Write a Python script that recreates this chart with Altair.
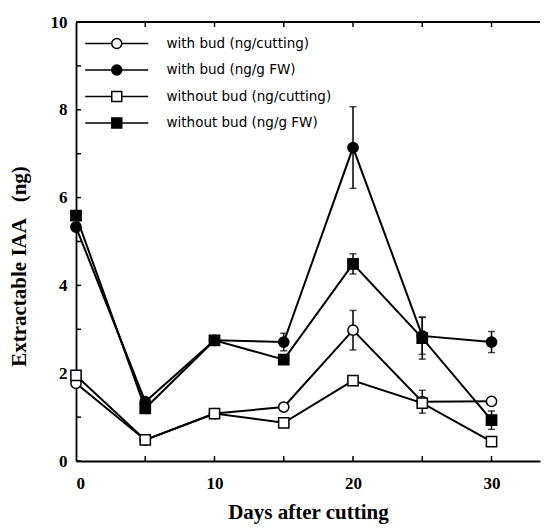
import altair as alt
import pandas as pd

# ---- data ----
days = [0, 5, 10, 15, 20, 25, 30]
series_names = [
    "with bud (ng/cutting)",
    "with bud (ng/g FW)",
    "without bud (ng/cutting)",
    "without bud (ng/g FW)",
]
with_bud_cut = [1.77, 0.48, 1.08, 1.23, 2.98, 1.35, 1.36]
with_bud_fw = [5.33, 1.35, 2.75, 2.71, 7.14, 2.85, 2.71]
without_bud_cut = [1.95, 0.48, 1.08, 0.87, 1.83, 1.32, 0.44]
without_bud_fw = [5.59, 1.20, 2.75, 2.31, 4.49, 2.80, 0.93]

with_bud_cut_err = [0, 0, 0, 0, 0.45, 0.26, 0]
with_bud_fw_err = [0, 0, 0, 0.2, 0.93, 0.42, 0.24]
without_bud_cut_err = [0, 0, 0, 0, 0, 0, 0]
without_bud_fw_err = [0, 0, 0, 0, 0.23, 0.48, 0.21]

marker_shapes = ["circle", "circle", "square", "square"]
marker_fills = ["white", "black", "white", "black"]
marker_strokes = ["black", "black", "black", "black"]
legend_paths = [
    "M-6.3,0H-1M1,0H6.3M-1,0A1,1,0,1,0,1,0A1,1,0,1,0,-1,0Z",
    "M-6.3,0H-1M1,0H6.3M-1,0A1,1,0,1,0,1,0A1,1,0,1,0,-1,0Z",
    "M-6.3,0H-1M1,0H6.3M-1,-1H1V1H-1Z",
    "M-6.3,0H-1M1,0H6.3M-1,-1H1V1H-1Z",
]

y_tick_values = [0, 1, 2, 3, 4, 5, 6, 7, 8, 9, 10]
x_tick_values = [5, 10, 15, 20, 25, 30]
x_label_values = [0, 10, 20, 30]
y_label_values = [0, 2, 4, 6, 8, 10]

rows = []
for name, vals, errs in zip(
    series_names,
    [with_bud_cut, with_bud_fw, without_bud_cut, without_bud_fw],
    [with_bud_cut_err, with_bud_fw_err, without_bud_cut_err, without_bud_fw_err],
):
    for d, v, e in zip(days, vals, errs):
        rows.append({"series": name, "day": d, "value": v,
                     "lo": v - e, "hi": v + e, "err": e})
df = pd.DataFrame(rows)
err_df = df[df["err"] > 0]

yt_df = pd.DataFrame({"value": y_tick_values, "day": [0] * len(y_tick_values)})
xt_df = pd.DataFrame({"day": x_tick_values, "value": [0] * len(x_tick_values)})

W, H = 464, 439
SERIF = "Liberation Serif"
XTITLE = "Days after cutting"
YTITLE = "Extractable IAA\u00a0\u00a0\u00a0(ng)"

xscale = alt.Scale(domain=[0, 33.5], nice=False, zero=False)
yscale = alt.Scale(domain=[0, 10], nice=False, zero=False)

x_axis = alt.Axis(
    values=x_label_values, format="d", ticks=False, tickSize=0, grid=False,
    labelPadding=14, labelFont=SERIF, labelFontSize=17, labelFontWeight="bold",
    labelColor="black", domainColor="black", domainWidth=1.8,
    titleFont=SERIF, titleFontSize=21,
    titleFontWeight="bold", titleColor="black", titleBaseline="alphabetic",
    titleY=57,
)
y_axis = alt.Axis(
    values=y_label_values, format="d", ticks=False, tickSize=0, grid=False,
    labelPadding=9, labelFont=SERIF, labelFontSize=17, labelFontWeight="bold",
    labelColor="black", domainColor="black", domainWidth=1.8,
    titleFont=SERIF, titleFontSize=21,
    titleFontWeight="bold", titleColor="black", titleAngle=270,
    titleAlign="center", titleBaseline="middle", titleX=-57, titleY=244,
)

X = alt.X("day:Q", scale=xscale, axis=x_axis, title=XTITLE)
Y = alt.Y("value:Q", scale=yscale, axis=y_axis, title=YTITLE)

# inward ticks
y_ticks = alt.Chart(yt_df).mark_rule(color="black", strokeWidth=1.5).encode(
    y=Y, x=alt.value(0), x2=alt.value(5))
x_ticks_bottom = alt.Chart(xt_df).mark_rule(color="black", strokeWidth=1.5).encode(
    x=X, y=alt.value(H), y2=alt.value(H - 5))
x_ticks_top = alt.Chart(xt_df).mark_rule(color="black", strokeWidth=1.5).encode(
    x=X, y=alt.value(0), y2=alt.value(5))

errbars = alt.Chart(err_df).mark_errorbar(
    ticks=True, size=7, thickness=1.5, color="black").encode(
    x=X,
    y=alt.Y("lo:Q", scale=yscale, axis=y_axis, title=YTITLE),
    y2="hi:Q",
)

lines = alt.Chart(df).mark_line(color="black", strokeWidth=2).encode(
    x=X, y=Y, detail="series:N")

top_frame = alt.Chart(df).mark_rule(color="black", strokeWidth=1.5).encode(
    x=alt.value(0), x2=alt.value(W), y=alt.value(0))

points = alt.Chart(df).mark_point(
    size=105, stroke="black", strokeWidth=1.5, opacity=1, filled=False).encode(
    x=X, y=Y,
    shape=alt.Shape("series:N", scale=alt.Scale(domain=series_names, range=marker_shapes), legend=None),
    fill=alt.Fill("series:N", scale=alt.Scale(domain=series_names, range=marker_fills), legend=None),
)

leg = alt.Legend(
    title=None, orient="none", legendX=34, legendY=14.75, padding=0,
    labelOffset=43, symbolSize=100, symbolStrokeColor="black",
    symbolStrokeWidth=1.5, labelFont="DejaVu Sans", labelFontSize=13.5,
    labelColor="black", rowPadding=9.5, labelLimit=400,
)

legend_layer = alt.Chart(df).transform_filter("datum.day < 0").mark_point(
    size=100, strokeWidth=1.5, opacity=1, filled=False).encode(
    x=X, y=Y,
    shape=alt.Shape("series:N", scale=alt.Scale(domain=series_names, range=legend_paths), legend=leg),
    fill=alt.Fill("series:N", scale=alt.Scale(domain=series_names, range=marker_fills), legend=leg),
    stroke=alt.Stroke("series:N", scale=alt.Scale(domain=series_names, range=marker_strokes), legend=leg),
)

chart = alt.layer(
    y_ticks, x_ticks_bottom, x_ticks_top, errbars, lines, top_frame, points, legend_layer
).resolve_scale(shape="independent", fill="independent", stroke="independent").properties(
    width=W, height=H,
    autosize=alt.AutoSizeParams(type="none"),
    padding={"left": 68, "top": 14, "right": 2, "bottom": 67},
    background="white",
).configure_view(stroke="transparent")

chart.save("out.html", embed_options={"renderer": "svg", "actions": False})
